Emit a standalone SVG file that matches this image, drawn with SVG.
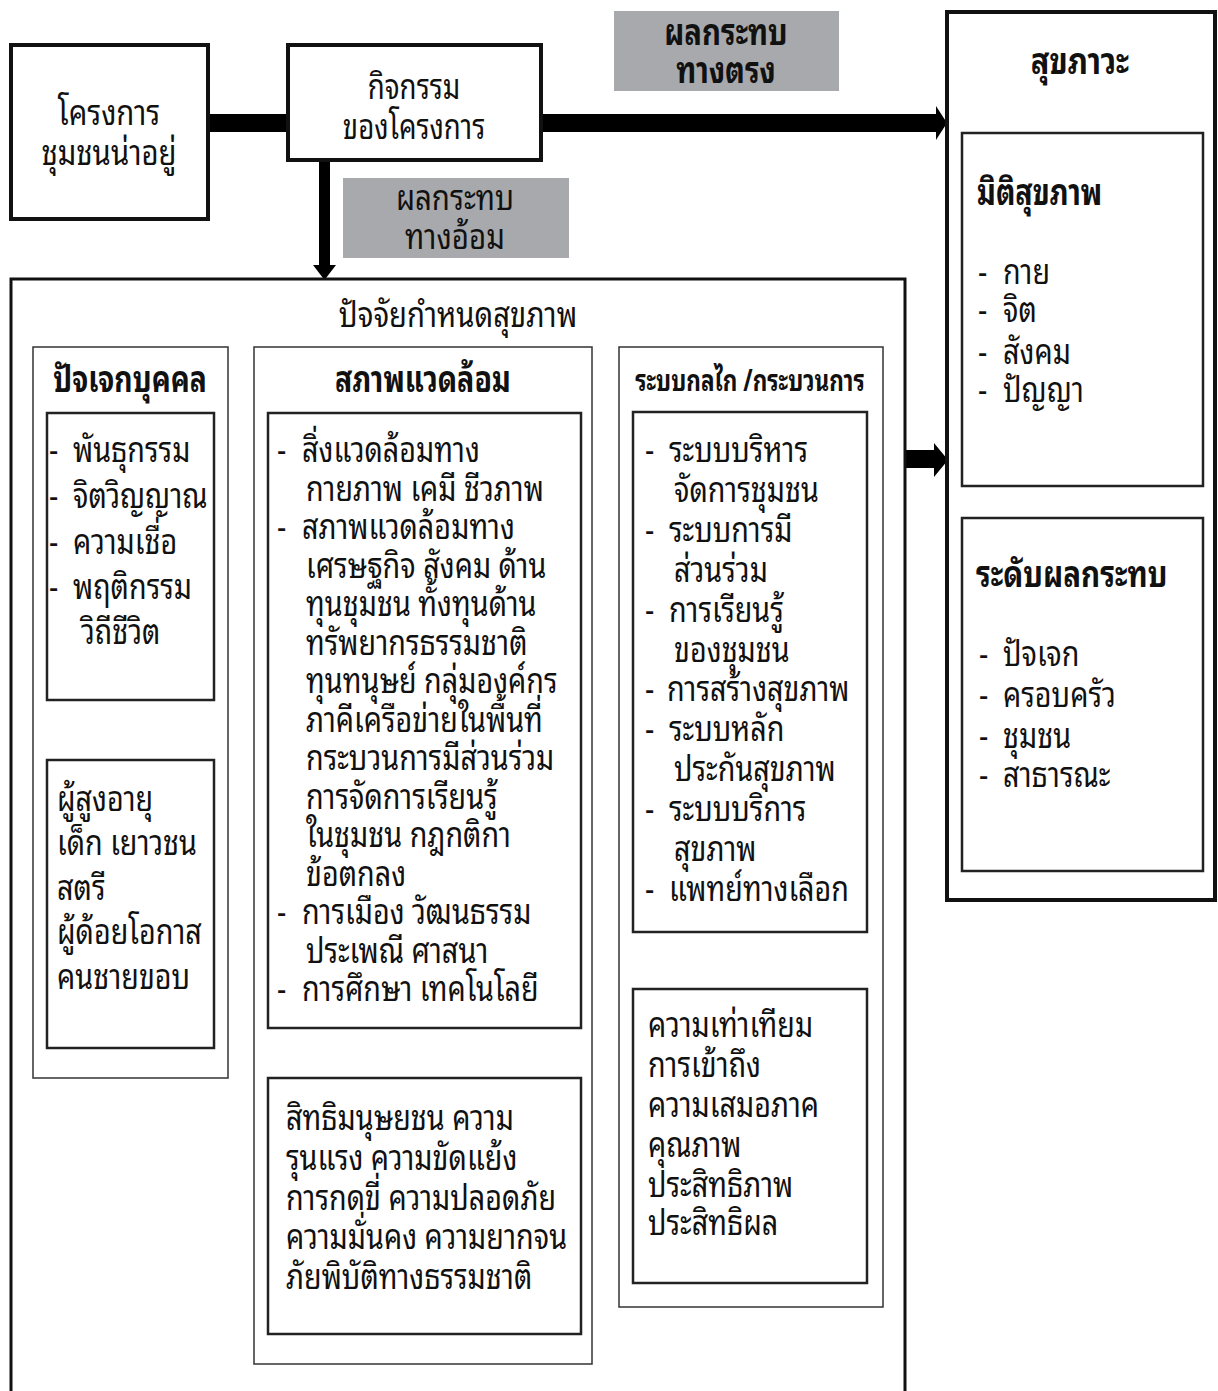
<svg xmlns="http://www.w3.org/2000/svg" width="1218" height="1391" viewBox="0 0 1218 1391">
<style>
text{font-family:"Noto Sans Thai Looped","Norasi","Kinnari","Loma","Garuda","Noto Sans Thai","Noto Sans","DejaVu Sans",sans-serif;fill:#111;}
.t{font-size:35px;}
.h{font-size:36px;font-weight:bold;}
.tm{text-anchor:middle;}
.thick{fill:#fff;stroke:#111;stroke-width:4;}
.mid{fill:#fff;stroke:#222;stroke-width:2.5;}
.thin{fill:#fff;stroke:#333;stroke-width:1.5;}
.gray{fill:#a8a9ac;stroke:none;}
.con{fill:#000;stroke:none;}
</style>
<rect x="0" y="0" width="1218" height="1391" fill="#fff"/>

<g id="connectors">
  <rect class="con" x="208" y="114" width="80" height="18"/>
  <path class="con" d="M541,114 H936 V106 L947,123 L936,140 V132 H541 Z"/>
  <path class="con" d="M319,160 H330 V265 H336 L324.5,280 L313,265 H319 Z"/>
  <path class="con" d="M120,700 H132 V739 H140 L126,760 L112,739 H120 Z"/>
  <path class="con" d="M410,1028 H423 V1052 H429 L416.5,1073 L404,1052 H410 Z"/>
  <path class="con" d="M746,932 H757 V969 H764 L751.5,989 L738,969 H746 Z"/>
  <path class="con" d="M906,450 H934 V443 L948,460 L934,477 V468 H906 Z"/>
</g>

<g id="project">
  <rect class="thick" x="11" y="45" width="197" height="174"/>
  <text class="t tm" transform="translate(109,125) scale(0.838,1)">โครงการ</text>
  <text class="t tm" transform="translate(109,165) scale(0.838,1)">ชุมชนน่าอยู่</text>
</g>

<g id="activities">
  <rect class="thick" x="288" y="45" width="253" height="115"/>
  <text class="t tm" transform="translate(414,99) scale(0.79,1)">กิจกรรม</text>
  <text class="t tm" transform="translate(414,139) scale(0.79,1)">ของโครงการ</text>
</g>

<g id="direct-label">
  <rect class="gray" x="614" y="11" width="225" height="80"/>
  <text class="h tm" transform="translate(726,45) scale(0.813,1)">ผลกระทบ</text>
  <text class="h tm" transform="translate(726,83) scale(0.813,1)">ทางตรง</text>
</g>

<g id="indirect-label">
  <rect class="gray" x="343" y="178" width="226" height="80"/>
  <text class="t tm" transform="translate(455,210) scale(0.842,1)">ผลกระทบ</text>
  <text class="t tm" transform="translate(455,249) scale(0.842,1)">ทางอ้อม</text>
</g>

<g id="determinants">
  <path d="M11,1395 V279 H905 V1395" fill="#fff" stroke="#111" stroke-width="3"/>
  <text class="t tm" transform="translate(458,327) scale(0.836,1)">ปัจจัยกำหนดสุขภาพ</text>
</g>

<g id="individual">
  <rect class="thin" x="33" y="347" width="195" height="731"/>
  <text class="h tm" transform="translate(130,392) scale(0.786,1)">ปัจเจกบุคคล</text>
  <rect class="mid" x="47" y="413" width="167" height="287"/>
  <text class="t" transform="translate(49,462) scale(0.821,1)">-</text><text class="t" transform="translate(73,462) scale(0.821,1)">พันธุกรรม</text>
  <text class="t" transform="translate(49,508) scale(0.821,1)">-</text><text class="t" transform="translate(73,508) scale(0.821,1)">จิตวิญญาณ</text>
  <text class="t" transform="translate(49,554) scale(0.821,1)">-</text><text class="t" transform="translate(73,554) scale(0.821,1)">ความเชื่อ</text>
  <text class="t" transform="translate(49,599) scale(0.821,1)">-</text><text class="t" transform="translate(73,599) scale(0.821,1)">พฤติกรรม</text>
  <text class="t" transform="translate(81,644) scale(0.821,1)">วิถีชีวิต</text>
</g>

<g id="groups">
  <rect class="mid" x="47" y="760" width="167" height="288"/>
  <text class="t" transform="translate(57,811) scale(0.821,1)">ผู้สูงอายุ</text>
  <text class="t" transform="translate(57,855) scale(0.821,1)">เด็ก เยาวชน</text>
  <text class="t" transform="translate(57,900) scale(0.821,1)">สตรี</text>
  <text class="t" transform="translate(57,944) scale(0.821,1)">ผู้ด้อยโอกาส</text>
  <text class="t" transform="translate(57,989) scale(0.821,1)">คนชายขอบ</text>
</g>

<g id="environment">
  <rect class="thin" x="254" y="347" width="338" height="1017"/>
  <text class="h tm" transform="translate(423,392) scale(0.795,1)">สภาพแวดล้อม</text>
  <rect class="mid" x="268" y="413" width="313" height="615"/>
  <text class="t" transform="translate(277,462) scale(0.821,1)">-</text><text class="t" transform="translate(302,462) scale(0.821,1)">สิ่งแวดล้อมทาง</text>
  <text class="t" transform="translate(306,500.5) scale(0.821,1)">กายภาพ เคมี ชีวภาพ</text>
  <text class="t" transform="translate(277,539) scale(0.821,1)">-</text><text class="t" transform="translate(302,539) scale(0.821,1)">สภาพแวดล้อมทาง</text>
  <text class="t" transform="translate(306,577.5) scale(0.821,1)">เศรษฐกิจ สังคม ด้าน</text>
  <text class="t" transform="translate(306,616) scale(0.821,1)">ทุนชุมชน ทั้งทุนด้าน</text>
  <text class="t" transform="translate(306,654.5) scale(0.821,1)">ทรัพยากรธรรมชาติ</text>
  <text class="t" transform="translate(306,693) scale(0.821,1)">ทุนทนุษย์ กลุ่มองค์กร</text>
  <text class="t" transform="translate(306,731.5) scale(0.821,1)">ภาคีเครือข่ายในพื้นที่</text>
  <text class="t" transform="translate(306,770) scale(0.821,1)">กระบวนการมีส่วนร่วม</text>
  <text class="t" transform="translate(306,808.5) scale(0.821,1)">การจัดการเรียนรู้</text>
  <text class="t" transform="translate(306,847) scale(0.821,1)">ในชุมชน กฎกติกา</text>
  <text class="t" transform="translate(306,885.5) scale(0.821,1)">ข้อตกลง</text>
  <text class="t" transform="translate(277,924) scale(0.821,1)">-</text><text class="t" transform="translate(302,924) scale(0.821,1)">การเมือง วัฒนธรรม</text>
  <text class="t" transform="translate(306,962.5) scale(0.821,1)">ประเพณี ศาสนา</text>
  <text class="t" transform="translate(277,1001) scale(0.821,1)">-</text><text class="t" transform="translate(302,1001) scale(0.821,1)">การศึกษา เทคโนโลยี</text>
</g>

<g id="risks">
  <rect class="mid" x="268" y="1078" width="313" height="256"/>
  <text class="t" transform="translate(286,1130) scale(0.821,1)">สิทธิมนุษยชน ความ</text>
  <text class="t" transform="translate(286,1170) scale(0.821,1)">รุนแรง ความขัดแย้ง</text>
  <text class="t" transform="translate(286,1210) scale(0.821,1)">การกดขี่ ความปลอดภัย</text>
  <text class="t" transform="translate(286,1249) scale(0.821,1)">ความมั่นคง ความยากจน</text>
  <text class="t" transform="translate(286,1289) scale(0.821,1)">ภัยพิบัติทางธรรมชาติ</text>
</g>

<g id="mechanisms">
  <rect class="thin" x="619" y="347" width="264" height="960"/>
  <text class="h tm" transform="translate(750,391) scale(0.752,1)" style="font-size:30px">ระบบกลไก /กระบวนการ</text>
  <rect class="mid" x="633" y="412" width="234" height="520"/>
  <text class="t" transform="translate(645,462) scale(0.821,1)">-</text><text class="t" transform="translate(669,462) scale(0.821,1)">ระบบบริหาร</text>
  <text class="t" transform="translate(674,502) scale(0.821,1)">จัดการชุมชน</text>
  <text class="t" transform="translate(645,542) scale(0.821,1)">-</text><text class="t" transform="translate(669,542) scale(0.821,1)">ระบบการมี</text>
  <text class="t" transform="translate(674,582) scale(0.821,1)">ส่วนร่วม</text>
  <text class="t" transform="translate(645,622) scale(0.821,1)">-</text><text class="t" transform="translate(669,622) scale(0.821,1)">การเรียนรู้</text>
  <text class="t" transform="translate(674,662) scale(0.821,1)">ของชุมชน</text>
  <text class="t" transform="translate(645,701) scale(0.821,1)">-</text><text class="t" transform="translate(667,701) scale(0.821,1)">การสร้างสุขภาพ</text>
  <text class="t" transform="translate(645,741) scale(0.821,1)">-</text><text class="t" transform="translate(669,741) scale(0.821,1)">ระบบหลัก</text>
  <text class="t" transform="translate(674,781) scale(0.821,1)">ประกันสุขภาพ</text>
  <text class="t" transform="translate(645,821) scale(0.821,1)">-</text><text class="t" transform="translate(669,821) scale(0.821,1)">ระบบบริการ</text>
  <text class="t" transform="translate(674,861) scale(0.821,1)">สุขภาพ</text>
  <text class="t" transform="translate(645,901) scale(0.821,1)">-</text><text class="t" transform="translate(669,901) scale(0.821,1)">แพทย์ทางเลือก</text>
</g>

<g id="equity">
  <rect class="mid" x="633" y="989" width="234" height="294"/>
  <text class="t" transform="translate(648,1037) scale(0.821,1)">ความเท่าเทียม</text>
  <text class="t" transform="translate(648,1077) scale(0.821,1)">การเข้าถึง</text>
  <text class="t" transform="translate(648,1117) scale(0.821,1)">ความเสมอภาค</text>
  <text class="t" transform="translate(648,1157) scale(0.821,1)">คุณภาพ</text>
  <text class="t" transform="translate(648,1197) scale(0.821,1)">ประสิทธิภาพ</text>
  <text class="t" transform="translate(648,1235) scale(0.821,1)">ประสิทธิผล</text>
</g>

<g id="wellbeing">
  <rect class="thick" x="947" y="12" width="268" height="888"/>
  <text class="h tm" transform="translate(1080,74) scale(0.857,1)">สุขภาวะ</text>
</g>

<g id="dimensions">
  <rect class="mid" x="962" y="133" width="241" height="353"/>
  <text class="h" transform="translate(977,205) scale(0.798,1)">มิติสุขภาพ</text>
  <text class="t" transform="translate(978,284) scale(0.821,1)">-</text><text class="t" transform="translate(1003,284) scale(0.821,1)">กาย</text>
  <text class="t" transform="translate(978,322) scale(0.821,1)">-</text><text class="t" transform="translate(1003,322) scale(0.821,1)">จิต</text>
  <text class="t" transform="translate(978,364) scale(0.821,1)">-</text><text class="t" transform="translate(1003,364) scale(0.821,1)">สังคม</text>
  <text class="t" transform="translate(978,402) scale(0.821,1)">-</text><text class="t" transform="translate(1003,402) scale(0.821,1)">ปัญญา</text>
</g>

<g id="levels">
  <rect class="mid" x="962" y="518" width="241" height="353"/>
  <text class="h" transform="translate(976,587) scale(0.82,1)">ระดับผลกระทบ</text>
  <text class="t" transform="translate(979,666) scale(0.821,1)">-</text><text class="t" transform="translate(1003,666) scale(0.821,1)">ปัจเจก</text>
  <text class="t" transform="translate(979,707) scale(0.821,1)">-</text><text class="t" transform="translate(1003,707) scale(0.821,1)">ครอบครัว</text>
  <text class="t" transform="translate(979,748) scale(0.821,1)">-</text><text class="t" transform="translate(1003,748) scale(0.821,1)">ชุมชน</text>
  <text class="t" transform="translate(979,787) scale(0.821,1)">-</text><text class="t" transform="translate(1003,787) scale(0.821,1)">สาธารณะ</text>
</g>
</svg>
